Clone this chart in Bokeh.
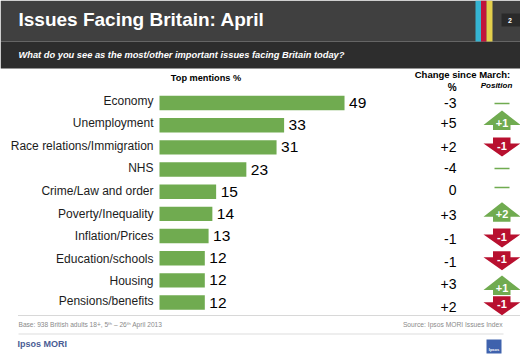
from bokeh.plotting import figure
from bokeh.models import Range1d
from bokeh.core.properties import value
from bokeh.embed import file_html
from bokeh.resources import INLINE
import numpy as np

categories = ["Economy", "Unemployment", "Race relations/Immigration", "NHS", "Crime/Law and order",
              "Poverty/Inequality", "Inflation/Prices", "Education/schools", "Housing", "Pensions/benefits"]
mentions = [49, 33, 31, 23, 15, 14, 13, 12, 12, 12]
change_pct = ["-3", "+5", "+2", "-4", "0", "+3", "-1", "-1", "+3", "+2"]
position = [0, 1, -1, 0, 0, 2, -1, -1, 1, -1]

# hand placement of the reference's loosely aligned columns (pixels from the top)
label_y = [100, 122.3, 145, 167.3, 190.7, 213, 235.7, 258, 280.7, 300]
change_y = [102.5, 122.5, 146, 167.7, 189, 214.7, 238, 261, 283.7, 306.7]
marker_y = [102.7, 110, 137, 167.7, 186.7, 201.7, 228, 250.7, 275, 295.7]

W, H = 520, 356
GREEN, RED = "#70ab50", "#b8102f"
FONT = value("Liberation Sans")
ROW0, STEP = 102.5, 22.17
X0, PPU = 159.0, 3.776

p = figure(width=W, height=H, output_backend="svg", toolbar_location=None,
           x_range=Range1d(-X0 / PPU, (W - X0) / PPU),
           y_range=Range1d((H - ROW0) / STEP, -ROW0 / STEP),
           x_axis_location=None, y_axis_location=None, min_border=0)
p.grid.visible = False
p.outline_line_color = None
p.extra_x_ranges = {"px": Range1d(0, W)}
p.extra_y_ranges = {"px": Range1d(H, 0)}
PX = dict(x_range_name="px", y_range_name="px")

def band(l, r, t, b, c):
    p.quad(left=[l], right=[r], top=[t], bottom=[b], fill_color=c, line_color=None, **PX)

def label(x, y, s, size, color="#000000", align="left", style="normal"):
    p.text(x=[x], y=[y], text=[s], text_font=FONT, text_font_size=f"{size}px", text_color=color,
           text_align=align, text_baseline="middle", text_font_style=style, **PX)

# header
band(0, W, 41, 0, "#404040")
band(0, W, 68, 41, "#2d2d2d")
band(475, 480.5, 41, 0, "#35b4d2")
band(480.5, 486, 41, 0, "#c0143c")
band(486, 492, 41, 0, "#e3cf4c")
band(501, 520, 26, 13, "#2a2a2a")
label(507.5, 19.5, "2", 7, "#ffffff", style="bold")
label(18, 18.5, "Issues Facing Britain: April", 19, "#ffffff", style="bold")
label(18, 54.5, "What do you see as the most/other important issues facing Britain today?", 9.3, "#ffffff", style="bold italic")

# column heads
label(205.5, 77, "Top mentions %", 9.2, align="center", style="bold")
label(462, 74, "Change since March:", 9.5, align="center", style="bold")
label(451.7, 87, "%", 10, align="center", style="bold")
label(496, 85, "Position", 8, align="center", style="bold italic")

# bars and their labels
rows = np.arange(len(categories))
p.hbar(y=rows, left=0, right=mentions, height=0.65, fill_color=GREEN, line_color=None)
p.text(x=[153] * len(rows), y=label_y, text=categories, text_font=FONT, **PX,
       text_font_size="12px", text_align="right", text_baseline="middle", text_color="#1c1c1c")
p.text(x=mentions, y=rows, text=[str(v) for v in mentions], x_offset=4.5, text_font=FONT,
       text_font_size="15.5px", text_align="left", text_baseline="middle", text_color="#000000")
p.text(x=[456] * len(rows), y=change_y, text=change_pct, text_font=FONT, **PX,
       text_font_size="14px", text_align="right", text_baseline="middle", text_color="#000000")

# position markers
CX = 501.5
for pos, top in zip(position, marker_y):
    if pos == 0:
        band(494, 509, top + 1, top - 0.5, GREEN)
    elif pos > 0:
        p.patch(x=[CX, CX + 18.5, 510, 510, 492.5, 492.5, CX - 18.5],
                y=[top, top + 14.5, top + 14.5, top + 19.5, top + 19.5, top + 14.5, top + 14.5],
                fill_color=GREEN, line_color=None, **PX)
        label(CX, top + 12, f"{pos:+d}", 11, "#ffffff", "center", "bold")
    else:
        p.patch(x=[CX, CX + 18.5, 510, 510, 492.5, 492.5, CX - 18.5],
                y=[top + 19, top + 6, top + 6, top, top, top + 6, top + 6],
                fill_color=RED, line_color=None, **PX)
        label(CX, top + 8, f"{pos:+d}", 11, "#ffffff", "center", "bold")

# footer
p.segment(x0=[18], x1=[520], y0=[315], y1=[315], line_color="#b0b0b0", line_width=1, line_dash="1 1", **PX)
p.segment(x0=[18], x1=[503], y0=[333.5], y1=[333.5], line_color="#dddddd", line_width=1, **PX)
label(18, 323.5, "Base: 938 British adults 18+, 5ᵗʰ – 26ᵗʰ April 2013", 6.6, "#8a8a8a")
label(502, 323.5, "Source: Ipsos MORI Issues Index", 6.7, "#8a8a8a", "right")
label(17, 343, "Ipsos MORI", 9, "#4a5c94", style="bold")
band(486, 501, 353, 339, "#3f62ad")
label(493.5, 349, "Ipsos", 4, "#ffffff", "center", "bold")

open("out.html", "w").write(file_html(p, INLINE))
